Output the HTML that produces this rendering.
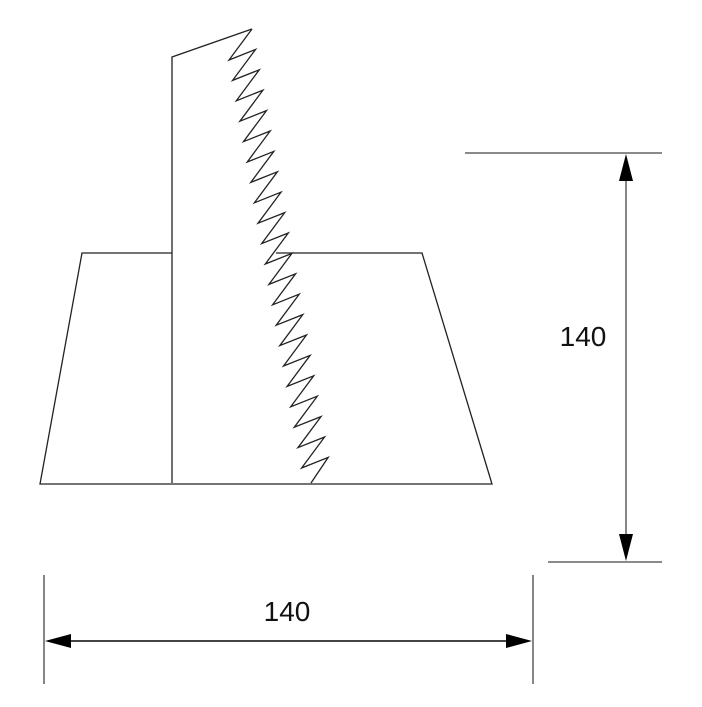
<!DOCTYPE html>
<html><head><meta charset="utf-8"><style>html,body{margin:0;padding:0;background:#fff}</style></head>
<body>
<svg width="702" height="702" viewBox="0 0 702 702" xmlns="http://www.w3.org/2000/svg">
<g fill="none" stroke="#222" stroke-width="1.3">
<polyline points="172,483 172,57 252,29"/>
<polyline points="252,29 229,60 255.6,49.4 232.6,80.4 259.3,69.8 236.3,100.8 262.9,90.2 239.9,121.2 266.5,110.6 243.5,141.6 270.2,131 247.2,162 273.8,151.4 250.8,182.4 277.4,171.8 254.4,202.8 281,192.2 258,223.2 284.7,212.6 261.7,243.6 288.3,233 265.3,264 291.9,253.4 268.9,284.4 295.6,273.8 272.6,304.8 299.2,294.2 276.2,325.2 302.8,314.6 279.8,345.6 306.5,335 283.5,366 310.1,355.4 287.1,386.4 313.7,375.8 290.7,406.8 317.3,396.2 294.3,427.2 321,416.6 298,447.6 324.6,437 301.6,468 328.2,457.4 311,483"/>
<polyline points="172,253 82,253 40,484 492,484 422,253 276,253"/>
</g>
<g stroke="#444" stroke-width="1.3">
<line x1="465" y1="153" x2="662" y2="153"/>
<line x1="548" y1="562" x2="662" y2="562"/>
<line x1="626" y1="160" x2="626" y2="555"/>
<line x1="44" y1="575" x2="44" y2="684"/>
<line x1="533" y1="575" x2="533" y2="684"/>
<line x1="50" y1="641" x2="527" y2="641" stroke-width="2"/>
</g>
<g fill="#000">
<polygon points="626,154 619,181 633,181"/>
<polygon points="626,561 619,534 633,534"/>
<polygon points="45,641 71,634 71,648"/>
<polygon points="532,641 506,634 506,648"/>
</g>
<g font-family="Liberation Sans, sans-serif" font-size="28" fill="#111" text-anchor="middle">
<text x="583" y="346">140</text>
<text x="287" y="621">140</text>
</g>
</svg>
</body></html>
